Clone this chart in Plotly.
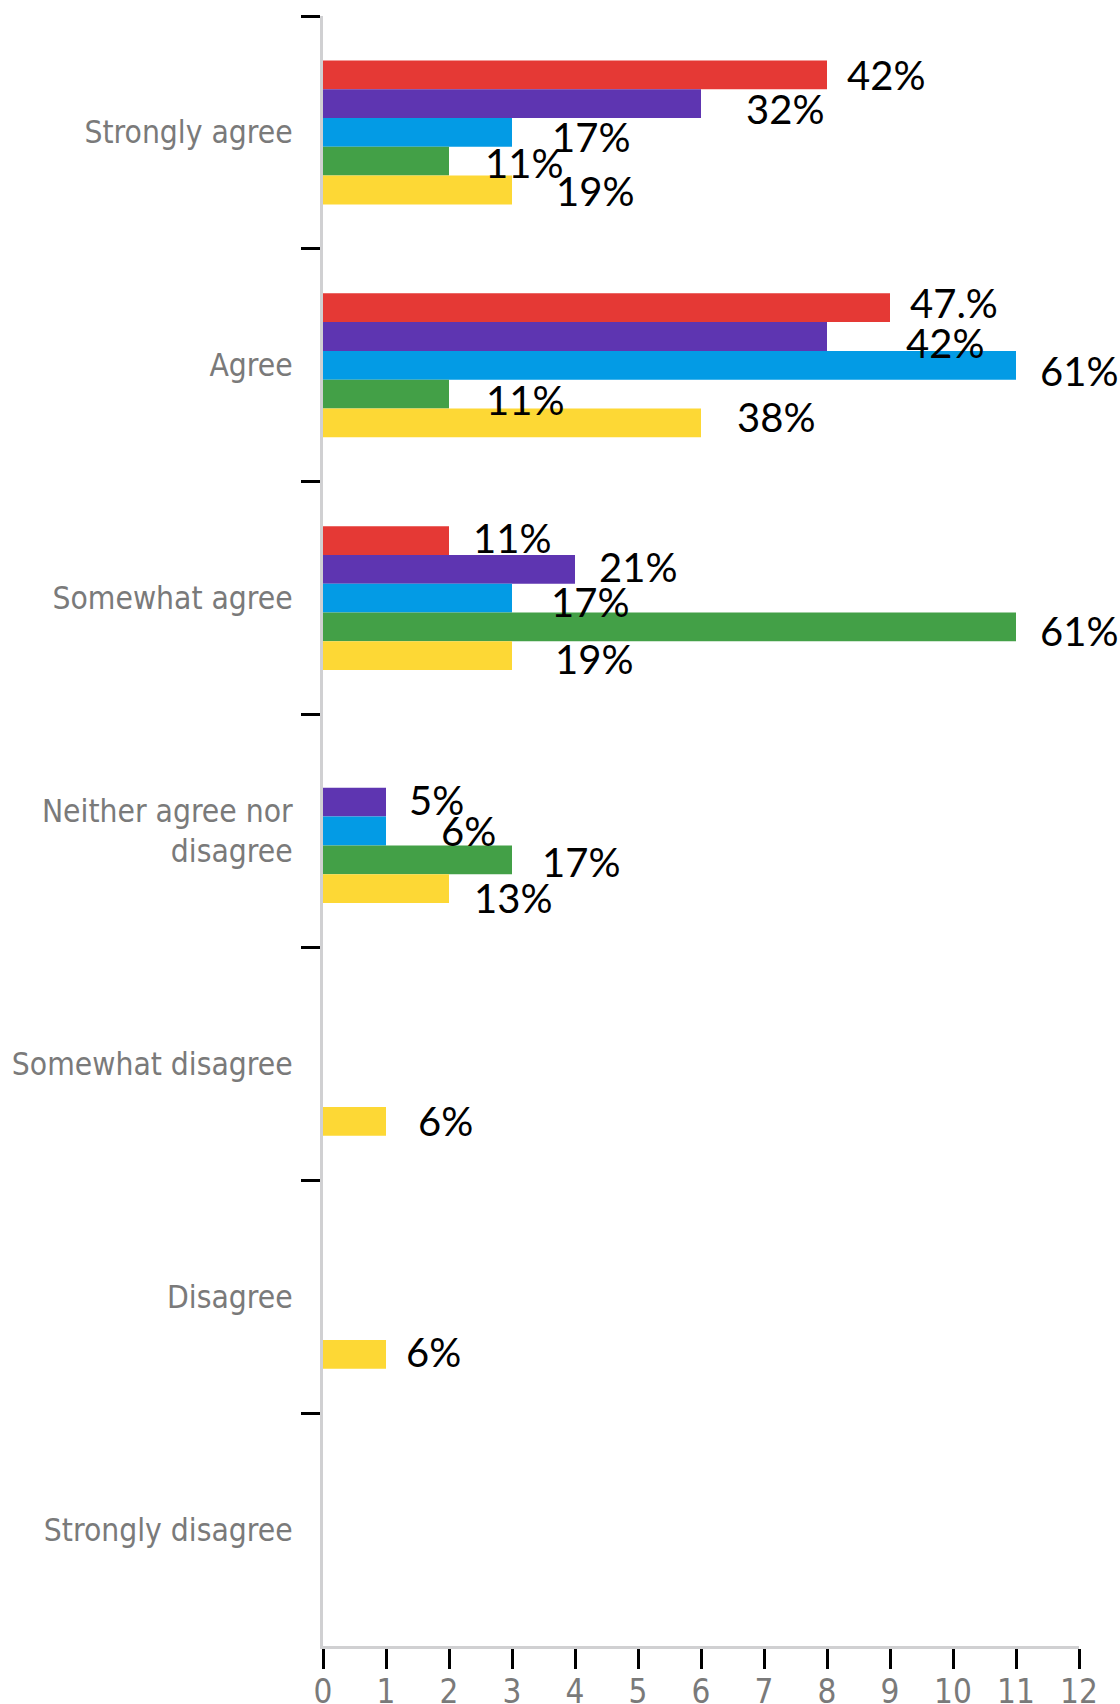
import plotly.graph_objects as go

# ---------------- data ----------------
categories = [
    "Strongly agree",
    "Agree",
    "Somewhat agree",
    "Neither agree nor<br>disagree",
    "Somewhat disagree",
    "Disagree",
    "Strongly disagree",
]
series_names = ["Series 1", "Series 2", "Series 3", "Series 4", "Series 5"]

red_values = [8, 9, 2, 0, 0, 0, 0]
purple_values = [6, 8, 4, 1, 0, 0, 0]
blue_values = [3, 11, 3, 1, 0, 0, 0]
green_values = [2, 2, 11, 3, 0, 0, 0]
yellow_values = [3, 6, 3, 2, 1, 1, 0]

red_labels = ["42%", "47.%", "11%", "", "", "", ""]
purple_labels = ["32%", "42%", "21%", "5%", "", "", ""]
blue_labels = ["17%", "61%", "17%", "6%", "", "", ""]
green_labels = ["11%", "11%", "61%", "17%", "", "", ""]
yellow_labels = ["19%", "38%", "19%", "13%", "6%", "6%", ""]

x_tick_values = list(range(0, 13))

# ---------------- style ----------------
colors = ["#E53935", "#5E35B1", "#039BE5", "#43A047", "#FDD835"]

# per-label nudges (px right, px down) to mimic the hand-placed labels
red_nudges = [(18, 0), (18, -5), (22, -3), (0, 0), (0, 0), (0, 0), (0, 0)]
purple_nudges = [(43, 5), (77, 6), (22, -2), (21, -2), (0, 0), (0, 0), (0, 0)]
blue_nudges = [(38, 5), (22, 6), (37, 4), (53, 0), (0, 0), (0, 0), (0, 0)]
green_nudges = [(34, 2), (35, 6), (22, 4), (28, 2), (0, 0), (0, 0), (0, 0)]
yellow_nudges = [(42, 1), (34, -6), (41, 3), (23, 9), (30, 0), (18, -2), (0, 0)]

W, H = 1120, 1704
M_L, M_R, M_T, M_B = 323, 41, 16, 58
BARGAP = 0.382
LABEL_FONT = "DejaVu Sans Condensed, Liberation Sans Narrow, sans-serif"
VALUE_FONT = "Lato, Open Sans, sans-serif"

all_values = [red_values, purple_values, blue_values, green_values, yellow_values]
all_labels = [red_labels, purple_labels, blue_labels, green_labels, yellow_labels]
all_nudges = [red_nudges, purple_nudges, blue_nudges, green_nudges, yellow_nudges]

fig = go.Figure()
for name, vals, col in zip(series_names, all_values, colors):
    fig.add_trace(go.Bar(
        name=name, x=vals, y=categories, orientation="h",
        marker=dict(color=col, line=dict(width=0)),
        hoverinfo="x+y",
    ))

plot_h = H - M_T - M_B
band_px = plot_h / len(categories)
n = len(series_names)
slot_px = band_px * (1 - BARGAP) / n

for i, (vals, labs, nudges) in enumerate(zip(all_values, all_labels, all_nudges)):
    for j, (v, lab, (dx, dy)) in enumerate(zip(vals, labs, nudges)):
        if not lab:
            continue
        fig.add_annotation(
            x=v, y=categories[j], text=lab, showarrow=False,
            xanchor="left", yanchor="middle",
            xshift=dx, yshift=((n - 1) / 2 - i) * slot_px - dy,
            font=dict(family=VALUE_FONT, size=40, color="#000000"),
        )

fig.update_layout(
    width=W, height=H,
    margin=dict(l=M_L, r=M_R, t=M_T, b=M_B, pad=0, autoexpand=False),
    paper_bgcolor="white", plot_bgcolor="white",
    barmode="group", bargap=BARGAP, bargroupgap=0,
    showlegend=False,
    xaxis=dict(
        range=[0, 12], tickmode="array", tickvals=x_tick_values,
        ticktext=[str(t) for t in x_tick_values],
        showgrid=False, zeroline=False, automargin=False,
        showline=True, linecolor="#D0D0D2", linewidth=3,
        ticks="outside", ticklen=20, tickwidth=3, tickcolor="#000000",
        ticklabelstandoff=-6,
        tickfont=dict(family=LABEL_FONT, size=33, color="#7A7A7A"),
        fixedrange=True,
    ),
    yaxis=dict(
        type="category", categoryorder="array", categoryarray=categories,
        autorange="reversed", automargin=False,
        showgrid=False, zeroline=False,
        showline=True, linecolor="#D0D0D2", linewidth=3,
        ticks="outside", tickson="boundaries", ticklen=19, tickwidth=3,
        tickcolor="#000000", ticklabelstandoff=21,
        tickfont=dict(family=LABEL_FONT, size=31.5, color="#7A7A7A"),
        fixedrange=True,
    ),
)

fig.write_html("out.html", config={"displayModeBar": False})
